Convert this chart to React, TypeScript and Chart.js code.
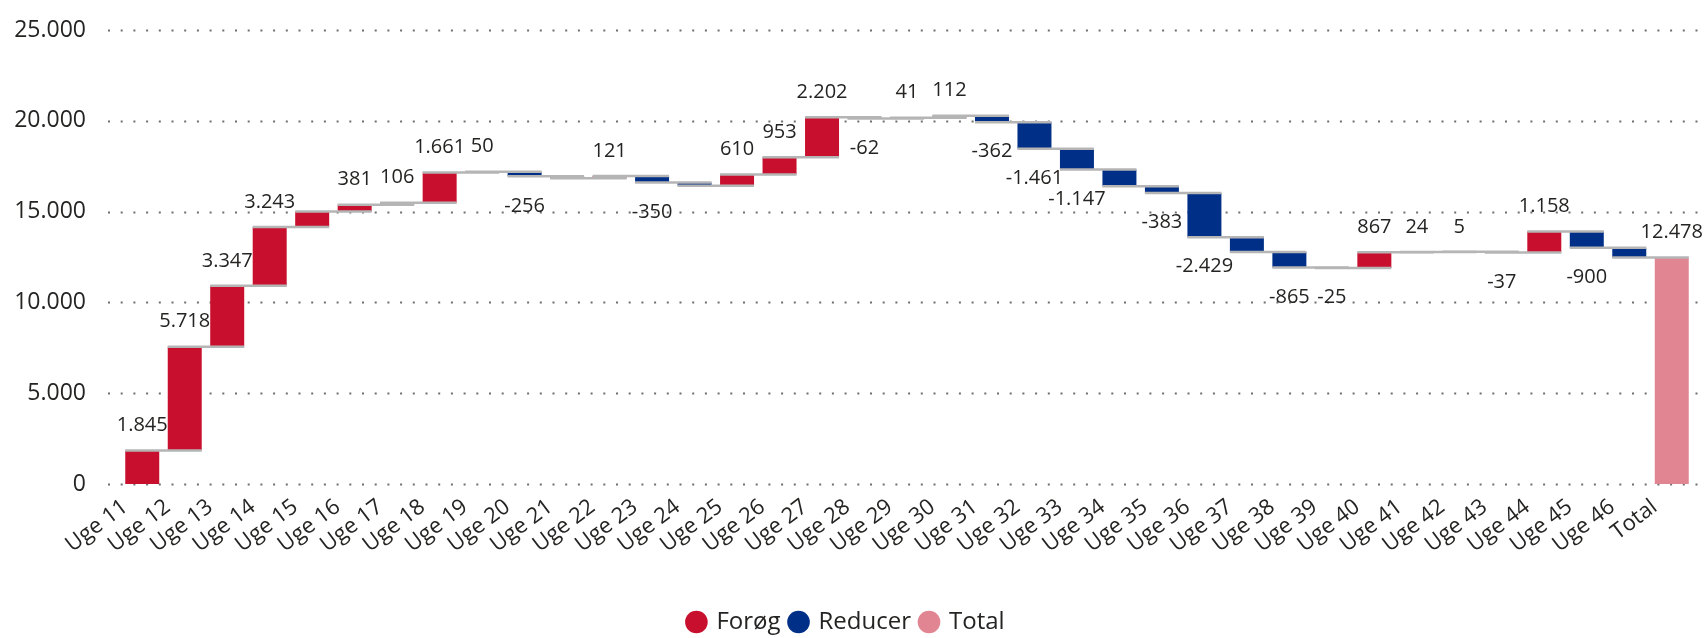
import React, { useEffect, useRef } from "react";
import { Chart, registerables } from "chart.js";

Chart.register(...registerables);

// ---- Data ----
const weekLabels = [
  "Uge 11", "Uge 12", "Uge 13", "Uge 14", "Uge 15", "Uge 16", "Uge 17", "Uge 18",
  "Uge 19", "Uge 20", "Uge 21", "Uge 22", "Uge 23", "Uge 24", "Uge 25", "Uge 26",
  "Uge 27", "Uge 28", "Uge 29", "Uge 30", "Uge 31", "Uge 32", "Uge 33", "Uge 34",
  "Uge 35", "Uge 36", "Uge 37", "Uge 38", "Uge 39", "Uge 40", "Uge 41", "Uge 42",
  "Uge 43", "Uge 44", "Uge 45", "Uge 46",
];
const totalLabel = "Total";

const weeklyChanges = [
  1845, 5718, 3347, 3243, 847, 381, 106, 1661,
  50, -256, -105, 121, -350, -180, 610, 953,
  2202, -62, 41, 112, -362, -1461, -1147, -912,
  -383, -2429, -810, -865, -25, 867, 24, 5,
  -37, 1158, -900, -529,
];
const totalValue = 12478;

// weeks whose value label is not shown in the original
const hiddenLabelWeeks = ["Uge 15", "Uge 21", "Uge 24", "Uge 34", "Uge 37", "Uge 46"];

const yTickValues = [0, 5000, 10000, 15000, 20000, 25000];
const seriesNames = ["Forøg", "Reducer", "Total"];

// ---- Styles ----
const COLOR_UP = "#C8102E";
const COLOR_DOWN = "#002F87";
const COLOR_TOTAL = "#E18592";
const TEXT = "#252423";
const FONT = "'Open Sans', 'Noto Sans', sans-serif";

const fmt = (v: number) => {
  const s = Math.abs(Math.round(v)).toString().replace(/\B(?=(\d{3})+(?!\d))/g, ".");
  return (v < 0 ? "-" : "") + s;
};

export default function App() {
  const canvasRef = useRef<HTMLCanvasElement | null>(null);

  useEffect(() => {
    document.body.style.margin = "0";
    const canvas = canvasRef.current;
    if (!canvas) return;

    const labels = [...weekLabels, totalLabel];
    const increase: ([number, number] | null)[] = [];
    const decrease: ([number, number] | null)[] = [];
    const total: ([number, number] | null)[] = [];
    const levels: number[] = [];
    const values: number[] = [];
    let run = 0;
    weeklyChanges.forEach((v) => {
      const start = run;
      run += v;
      levels.push(run);
      values.push(v);
      if (v >= 0) {
        increase.push([start, run]);
        decrease.push(null);
      } else {
        increase.push(null);
        decrease.push([start, run]);
      }
      total.push(null);
    });
    increase.push(null);
    decrease.push(null);
    total.push([0, totalValue]);
    levels.push(totalValue);
    values.push(totalValue);

    const gridPlugin = {
      id: "dottedGrid",
      beforeDatasetsDraw(chart: any) {
        const { ctx, chartArea, scales } = chart;
        ctx.save();
        ctx.strokeStyle = "#6e6e6e";
        ctx.lineWidth = 2;
        ctx.setLineDash([2, 10.7]);
        yTickValues.forEach((v) => {
          const y = Math.round(scales.y.getPixelForValue(v)) + 0.5;
          ctx.beginPath();
          ctx.moveTo(chartArea.left - 13, y);
          ctx.lineTo(chart.width, y);
          ctx.stroke();
        });
        ctx.restore();
      },
    };

    const barElement = (chart: any, i: number) => {
      for (let d = 0; d < 3; d++) {
        const ds = chart.data.datasets[d].data[i];
        if (ds) return chart.getDatasetMeta(d).data[i];
      }
      return null;
    };

    const overlayPlugin = {
      id: "waterfallOverlay",
      afterDatasetsDraw(chart: any) {
        const { ctx, scales } = chart;
        ctx.save();
        // connectors
        ctx.strokeStyle = "#b5b5b5";
        ctx.lineWidth = 2.5;
        for (let i = 0; i < labels.length - 1; i++) {
          const a = barElement(chart, i);
          const b = barElement(chart, i + 1);
          if (!a || !b) continue;
          const y = scales.y.getPixelForValue(levels[i]);
          ctx.beginPath();
          ctx.moveTo(a.x - a.width / 2, y);
          ctx.lineTo(b.x + b.width / 2, y);
          ctx.stroke();
        }
        // value labels
        ctx.fillStyle = TEXT;
        ctx.font = `20px ${FONT}`;
        ctx.textAlign = "center";
        ctx.textBaseline = "middle";
        for (let i = 0; i < labels.length; i++) {
          if (hiddenLabelWeeks.includes(labels[i])) continue;
          const el = barElement(chart, i);
          if (!el) continue;
          const v = values[i];
          const yEnd = scales.y.getPixelForValue(levels[i]);
          const y = v >= 0 ? yEnd - 25 : yEnd + 29.5;
          ctx.fillText(fmt(v), el.x, y);
        }
        ctx.restore();
      },
    };

    const common = {
      grouped: false,
      borderWidth: 0,
      barPercentage: 0.8,
      categoryPercentage: 1,
    };

    const chart = new Chart(canvas, {
      type: "bar",
      data: {
        labels,
        datasets: [
          { label: seriesNames[0], data: increase as any, backgroundColor: COLOR_UP, ...common },
          { label: seriesNames[1], data: decrease as any, backgroundColor: COLOR_DOWN, ...common },
          { label: seriesNames[2], data: total as any, backgroundColor: COLOR_TOTAL, ...common },
        ],
      },
      options: {
        responsive: false,
        animation: false,
        layout: { padding: { top: 30, left: 0, right: 12, bottom: -6 } },
        plugins: {
          tooltip: { enabled: false },
          legend: {
            position: "bottom",
            labels: {
              usePointStyle: true,
              pointStyle: "circle",
              boxWidth: 16,
              boxHeight: 16,
              padding: 10,
              color: TEXT,
              font: { family: FONT, size: 24 },
            },
          },
        },
        scales: {
          x: {
            grid: { display: false },
            border: { display: false },
            ticks: {
              autoSkip: false,
              minRotation: 37,
              maxRotation: 37,
              color: TEXT,
              font: { family: FONT, size: 22 },
              padding: 2,
              labelOffset: -17,
            },
            afterFit: (scale: any) => {
              scale.height = 116;
            },
          },
          y: {
            min: 0,
            max: 25000,
            grid: { display: false, drawTicks: false },
            border: { display: false },
            afterBuildTicks: (scale: any) => {
              scale.ticks = yTickValues.map((v) => ({ value: v }));
            },
            ticks: {
              color: TEXT,
              font: { family: FONT, size: 23 },
              padding: 35,
              callback: (v: any) => fmt(Number(v)),
            },
            afterFit: (scale: any) => {
              scale.width = 121;
              scale.paddingTop = 14;
              scale.paddingBottom = 14;
            },
          },
        },
      },
      plugins: [gridPlugin, overlayPlugin],
    });

    return () => chart.destroy();
  }, []);

  return (
    <div style={{ width: 1705, height: 638 }}>
      <canvas ref={canvasRef} width={1705} height={638} style={{ display: "block" }} />
    </div>
  );
}
